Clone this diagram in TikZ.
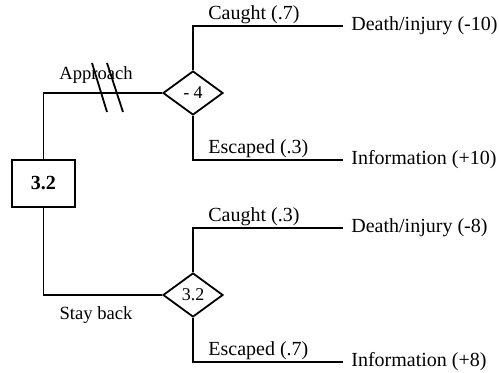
\documentclass[tikz,border=0pt]{standalone}
\usepackage{fontspec}
\setmainfont{Liberation Serif}
\usetikzlibrary{shapes.geometric}
\begin{document}
\begin{tikzpicture}[x=0.5pt,y=-0.5pt,
  line/.style={draw=black,line width=0.9pt},
  decbox/.style={draw=black,line width=0.9pt,rectangle,minimum width=31.5pt,minimum height=23.5pt,inner sep=0pt,font=\fontsize{10}{12}\selectfont\bfseries},
  chance/.style={draw=black,line width=0.9pt,diamond,aspect=1.36,minimum width=30pt,minimum height=22pt,inner sep=0pt,font=\fontsize{9}{11}\selectfont},
  outcome/.style={anchor=west,inner xsep=4pt,inner ysep=0pt,font=\fontsize{10}{12}\selectfont},
  prob/.style={anchor=south west,inner xsep=0pt,inner ysep=1pt,font=\fontsize{10}{12}\selectfont},
  act/.style={inner sep=0pt,font=\fontsize{9.3}{11}\selectfont}]
\useasboundingbox (0,0) rectangle (499,373);
\node[decbox] (box) at (43.5,183.5) {3.2};
\node[chance] (d1) at (193,93) {- 4};
\node[chance] (d2) at (193,295) {3.2};
\node[outcome] (o1) at (343,26) {Death/injury (-10)};
\node[outcome] (o2) at (343,160) {Information (+10)};
\node[outcome] (o3) at (343,228) {Death/injury (-8)};
\node[outcome] (o4) at (343,362) {Information (+8)};
\draw[line] (box.north) |- (d1.west);
\draw[line] (box.south) |- (d2.west);
\draw[line] (d1.north) |- (o1.west);
\draw[line] (d1.south) |- (o2.west);
\draw[line] (d2.north) |- (o3.west);
\draw[line] (d2.south) |- (o4.west);
\draw[line] (92,63) -- (107,112);
\draw[line] (107,63) -- (123,112);
\node[prob] (p1) at (208,26) {Caught (.7)};
\node[prob] (p2) at (208,160) {Escaped (.3)};
\node[prob] (p3) at (208,228) {Caught (.3)};
\node[prob] (p4) at (208,362) {Escaped (.7)};
\node[act] (a1) at (96,75) {Approach};
\node[act] (a2) at (96,315) {Stay back};
\end{tikzpicture}
\end{document}
